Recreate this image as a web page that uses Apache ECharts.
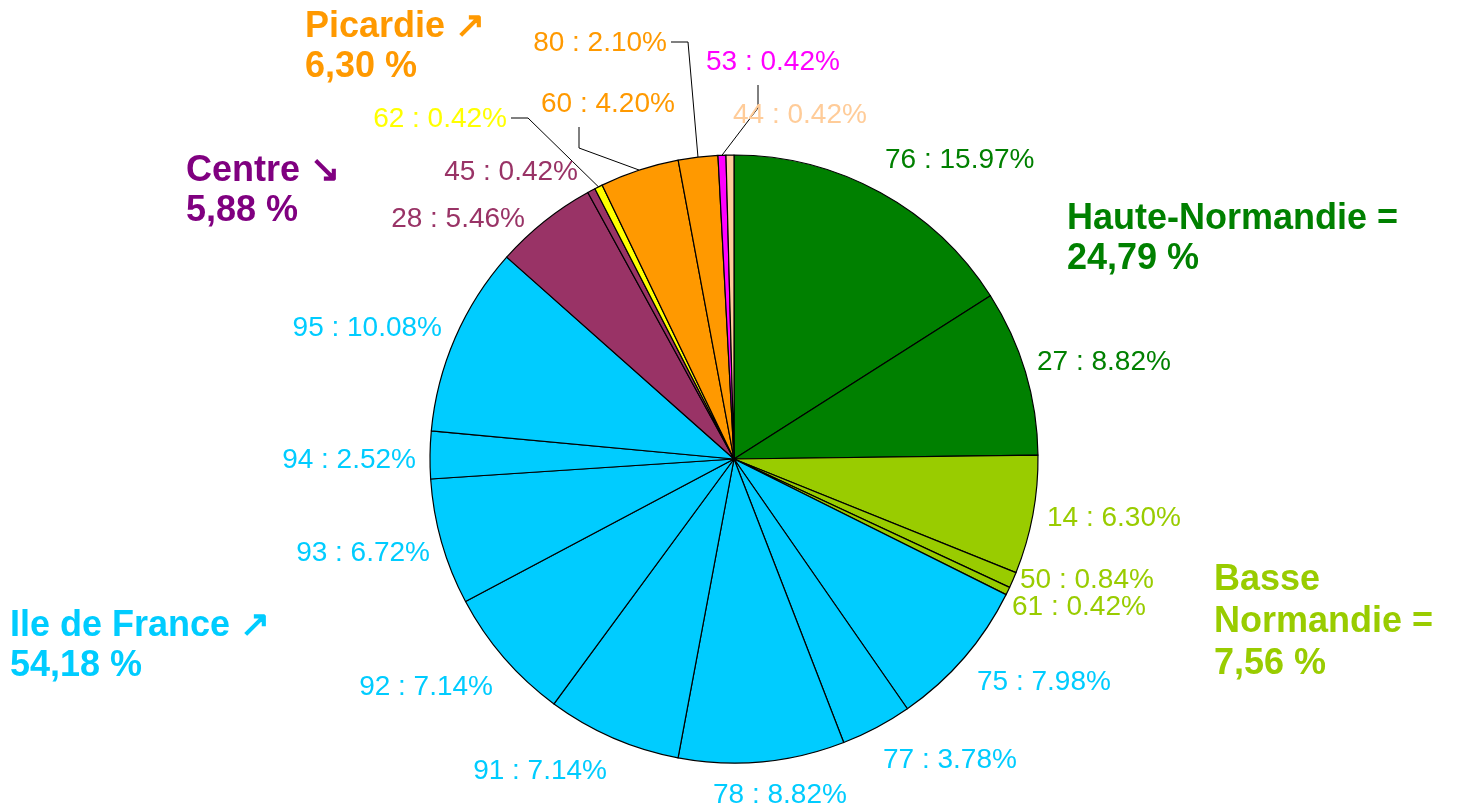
<!DOCTYPE html>
<html>
<head>
<meta charset="utf-8">
<script src="https://cdn.jsdelivr.net/npm/echarts@6/dist/echarts.min.js"></script>
<style>html,body{margin:0;padding:0;background:#fff;}#c{width:1459px;height:810px;}</style>
</head>
<body>
<div id="c"></div>
<script>
// ---- data ----
const codes = ['76','27','14','50','61','75','77','78','91','92','93','94','95','28','45','62','60','80','53','44'];
const values = [15.97,8.82,6.30,0.84,0.42,7.98,3.78,8.82,7.14,7.14,6.72,2.52,10.08,5.46,0.42,0.42,4.20,2.10,0.42,0.42];
const regionOf = ['HN','HN','BN','BN','BN','IDF','IDF','IDF','IDF','IDF','IDF','IDF','IDF','CEN','CEN','NPC','PIC','PIC','PDL','PDL2'];
const regionTitles = ['Haute-Normandie =', 'Basse\nNormandie =', 'Ile de France \u2197', 'Centre \u2198', 'Picardie \u2197'];
const regionShares = ['24,79 %', '7,56 %', '54,18 %', '5,88 %', '6,30 %'];

// ---- styles ----
const sliceColor = {HN:'#008000', BN:'#99CC00', IDF:'#00CCFF', CEN:'#993366', NPC:'#FFFF00', PIC:'#FF9900', PDL:'#FF00FF', PDL2:'#FFCC99'};
const titleColors = ['#008000', '#99CC00', '#00CCFF', '#800080', '#FF9900'];
const titlePos = [[1067,199],[1214,559],[10,606],[186,151],[305,7]];
// label anchor: [x, y, align, elbow points (optional)]
const labelLayoutTable = {
  '76':[885,160,'left'], '27':[1037,362,'left'], '14':[1047,518,'left'], '50':[1020,580,'left'],
  '61':[1012,607,'left'], '75':[977,682,'left'], '77':[883,760,'left'], '78':[713,795,'left'],
  '91':[607,771,'right'], '92':[493,687,'right'], '93':[430,553,'right'], '94':[416,460,'right'],
  '95':[442,328,'right'], '28':[525,219,'right'], '45':[578,172,'right'],
  '62':[507,119,'right',[[528,118],[511,118]]],
  '60':[541,104,'left',[[579,148],[579,127]]],
  '80':[667,43,'right',[[688,42],[671,42]]],
  '53':[706,62,'left',[[758,108],[758,85]]],
  '44':[733,115,'left']
};

const data = codes.map((c,i)=>{
  const col = sliceColor[regionOf[i]];
  const hasLine = !!labelLayoutTable[c][3];
  return {
    name: c, value: values[i],
    itemStyle: {color: col},
    label: {color: col},
    labelLine: {show: hasLine}
  };
});

const chart = echarts.init(document.getElementById('c'), null, {renderer:'canvas'});
const graphics = regionTitles.map((t,i)=>({
  type:'text', left: titlePos[i][0], top: titlePos[i][1],
  style:{text: t + '\n' + regionShares[i], fill: titleColors[i], font:'bold 36px "Liberation Sans", Arial, sans-serif', lineHeight: i===1?42:40}
}));

chart.setOption({
  animation:false,
  backgroundColor:'#fff',
  graphic: graphics,
  series:[{
    type:'pie',
    center:[734,459],
    radius:[0,304],
    startAngle:90,
    clockwise:true,
    avoidLabelOverlap:false,
    data:data,
    itemStyle:{borderColor:'#000', borderWidth:1.2},
    label:{
      show:true, position:'outside',
      fontFamily:'"Liberation Sans", Arial, sans-serif', fontSize:28,
      formatter:(p)=> p.name + ' : ' + p.value.toFixed(2) + '%'
    },
    labelLine:{length:10,length2:10,lineStyle:{color:'#000',width:1}},
    emphasis:{disabled:true},
    labelLayout:(params)=>{
      const code = codes[params.dataIndex];
      const L = labelLayoutTable[code];
      const out = {x:L[0], y:L[1], align:L[2], verticalAlign:'middle', hideOverlap:false, moveOverlap:null};
      if (L[3] && params.labelLinePoints) {
        out.labelLinePoints = [params.labelLinePoints[0], L[3][0], L[3][1]];
      }
      return out;
    }
  }]
});
</script>
</body>
</html>
